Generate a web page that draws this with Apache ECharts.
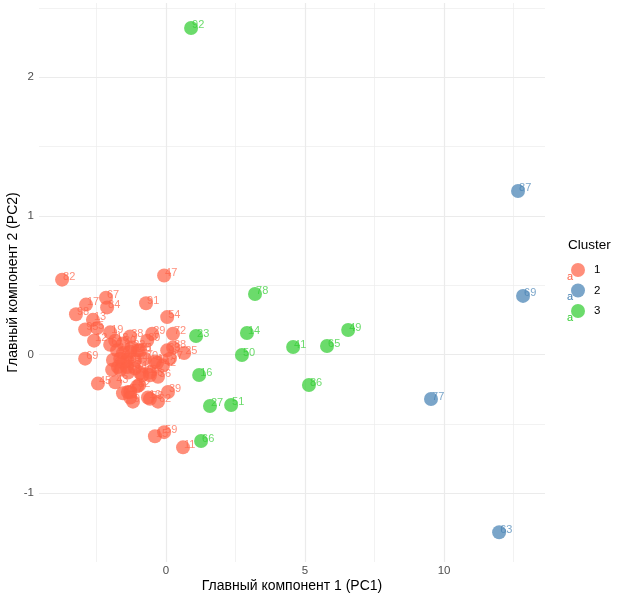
<!DOCTYPE html>
<html>
<head>
<meta charset="utf-8">
<script src="https://cdn.jsdelivr.net/npm/echarts@6/dist/echarts.min.js"></script>
<style>
html,body{margin:0;padding:0;background:#fff;}
#chart{width:623px;height:598px;}
</style>
</head>
<body>
<div id="chart"></div>
<script>
// ---- data ----
const xTicks = [0, 5, 10];
const yTicks = [-1, 0, 1, 2];
const xMinorGrid = [-2.5, 2.5, 7.5, 12.5];
const yMinorGrid = [-0.5, 0.5, 1.5, 2.5];

const clusterNames = ['1', '2', '3'];

const c1Id = [82,47,67,17,98,84,91,54,13,95,5,72,12,19,29,89,38,35,25,88,69,1,2,36,4,6,45,43,7,8,9,10,62,39,15,59,11,18,20,21,22,24,26,28,30,31,32,33,37,40,42,44,46,48,52,53,55,56,57,58,3,61,64,68,70,71,73];
const c1X = [-3.74,-0.07,-2.16,-2.88,-3.24,-2.12,-0.72,0.04,-2.63,-2.91,-2.48,0.25,-2.59,-2.01,-0.50,-0.68,-1.29,-1.01,0.65,0.25,-2.91,-0.32,-0.58,-0.29,-0.86,-0.97,-2.45,-1.83,-1.55,-1.37,-1.19,-0.65,-0.29,0.07,-0.40,-0.07,0.61,-1.83,-1.76,-1.55,-1.22,-1.91,-1.40,-1.73,-1.55,-0.94,-1.29,0.04,0.14,-0.40,-0.11,-1.12,-1.55,-1.65,-1.04,-1.40,-0.94,-0.58,-1.29,-0.58,-1.29,-2.01,-1.65,-1.37,-0.76,-1.12,-1.94];
const c1Y = [0.54,0.57,0.41,0.36,0.29,0.34,0.37,0.27,0.25,0.18,0.19,0.15,0.10,0.16,0.15,0.10,0.13,0.03,0.01,0.05,-0.03,-0.06,-0.13,-0.16,-0.15,-0.22,-0.21,-0.20,-0.28,-0.27,-0.34,-0.31,-0.34,-0.27,-0.59,-0.56,-0.67,0.10,0.03,0.01,0.05,-0.04,-0.04,-0.09,0.08,0.03,0.02,0.03,-0.03,-0.05,-0.08,-0.04,-0.06,-0.11,-0.23,-0.09,-0.13,-0.15,-0.27,-0.32,-0.31,0.07,-0.03,-0.13,-0.03,-0.10,-0.11];

const c2Id = [87,69,77,63];
const c2X = [12.66,12.84,9.53,11.98];
const c2Y = [1.18,0.423,-0.321,-1.282];

const c3Id = [92,78,14,23,50,41,65,49,16,86,27,51,66];
const c3X = [0.90,3.20,2.91,1.08,2.73,4.57,5.79,6.55,1.19,5.14,1.58,2.34,1.26];
const c3Y = [2.356,0.437,0.155,0.133,-0.004,0.054,0.061,0.177,-0.148,-0.220,-0.371,-0.364,-0.624];

// ---- style ----
const colors = ['#FF6347', '#4682B4', '#32CD32'];
const FONT = '"Liberation Sans", Arial, sans-serif';

function pts(xs, ys, ids) {
  return xs.map((x, i) => [x, ys[i], String(ids[i])]);
}

function clusterSeries(name, data, color) {
  return {
    name: name,
    type: 'scatter',
    data: data,
    symbol: 'circle',
    symbolSize: 14,
    z: 2,
    itemStyle: { color: color, opacity: 0.72 },
    label: {
      show: true,
      formatter: p => p.value[2],
      position: [8, 10],
      align: 'left',
      verticalAlign: 'bottom',
      color: color,
      fontSize: 11,
      fontFamily: FONT
    },
    labelLayout: { hideOverlap: false },
    emphasis: { disabled: true }
  };
}

const gridLineMajor = { color: '#ebebeb', width: 1.2, type: 'solid' };
const gridLineMinor = { color: '#ededed', width: 0.7, type: 'solid' };

const markData = []
  .concat(xMinorGrid.map(v => ({ xAxis: v, lineStyle: gridLineMinor })))
  .concat(yMinorGrid.map(v => ({ yAxis: v, lineStyle: gridLineMinor })))
  .concat(xTicks.map(v => ({ xAxis: v, lineStyle: gridLineMajor })))
  .concat(yTicks.map(v => ({ yAxis: v, lineStyle: gridLineMajor })));

const chart = echarts.init(document.getElementById('chart'), null, { renderer: 'canvas' });

const option = {
  animation: false,
  backgroundColor: '#ffffff',
  textStyle: { fontFamily: FONT },
  grid: { left: 39, right: 78, top: 3, bottom: 36, containLabel: false, outerBoundsMode: 'none' },
  xAxis: {
    type: 'value',
    min: -4.57,
    max: 13.63,
    axisLine: { show: false },
    axisTick: { show: false },
    splitLine: { show: false },
    axisLabel: { customValues: xTicks, color: '#4d4d4d', fontSize: 11.5, margin: 3, fontFamily: FONT },
    name: 'Главный компонент 1 (PC1)',
    nameLocation: 'middle',
    nameGap: 17,
    nameMoveOverlap: false,
    nameTextStyle: { color: '#000000', fontSize: 14, fontFamily: FONT }
  },
  yAxis: {
    type: 'value',
    min: -1.497,
    max: 2.536,
    axisLine: { show: false },
    axisTick: { show: false },
    splitLine: { show: false },
    axisLabel: { customValues: yTicks, color: '#4d4d4d', fontSize: 11.5, margin: 5, fontFamily: FONT },
    name: 'Главный компонент 2 (PC2)',
    nameLocation: 'middle',
    nameGap: 19,
    nameMoveOverlap: false,
    nameTextStyle: { color: '#000000', fontSize: 14, fontFamily: FONT }
  },
  legend: {
    data: clusterNames,
    orient: 'vertical',
    left: 566,
    top: 258,
    itemWidth: 14,
    itemHeight: 14,
    itemGap: 6.5,
    icon: 'circle',
    selectedMode: false,
    textStyle: { color: '#000000', fontSize: 11.5, fontFamily: FONT, padding: [0, 0, 0, 4], lineHeight: 14 }
  },
  graphic: [
    { type: 'text', left: 568, top: 238, style: { text: 'Cluster', font: '13.5px ' + FONT, fill: '#000000' } },
    { type: 'text', left: 567, top: 271, style: { text: 'a', font: '11px ' + FONT, fill: colors[0] } },
    { type: 'text', left: 567, top: 291, style: { text: 'a', font: '11px ' + FONT, fill: colors[1] } },
    { type: 'text', left: 567, top: 312, style: { text: 'a', font: '11px ' + FONT, fill: colors[2] } }
  ],
  series: [
    {
      type: 'scatter',
      data: [],
      z: 0,
      silent: true,
      markLine: {
        silent: true,
        z: 0,
        symbol: ['none', 'none'],
        label: { show: false },
        emphasis: { disabled: true },
        animation: false,
        data: markData
      }
    },
    clusterSeries(clusterNames[0], pts(c1X, c1Y, c1Id), colors[0]),
    clusterSeries(clusterNames[1], pts(c2X, c2Y, c2Id), colors[1]),
    clusterSeries(clusterNames[2], pts(c3X, c3Y, c3Id), colors[2])
  ]
};

chart.setOption(option);
</script>
</body>
</html>
